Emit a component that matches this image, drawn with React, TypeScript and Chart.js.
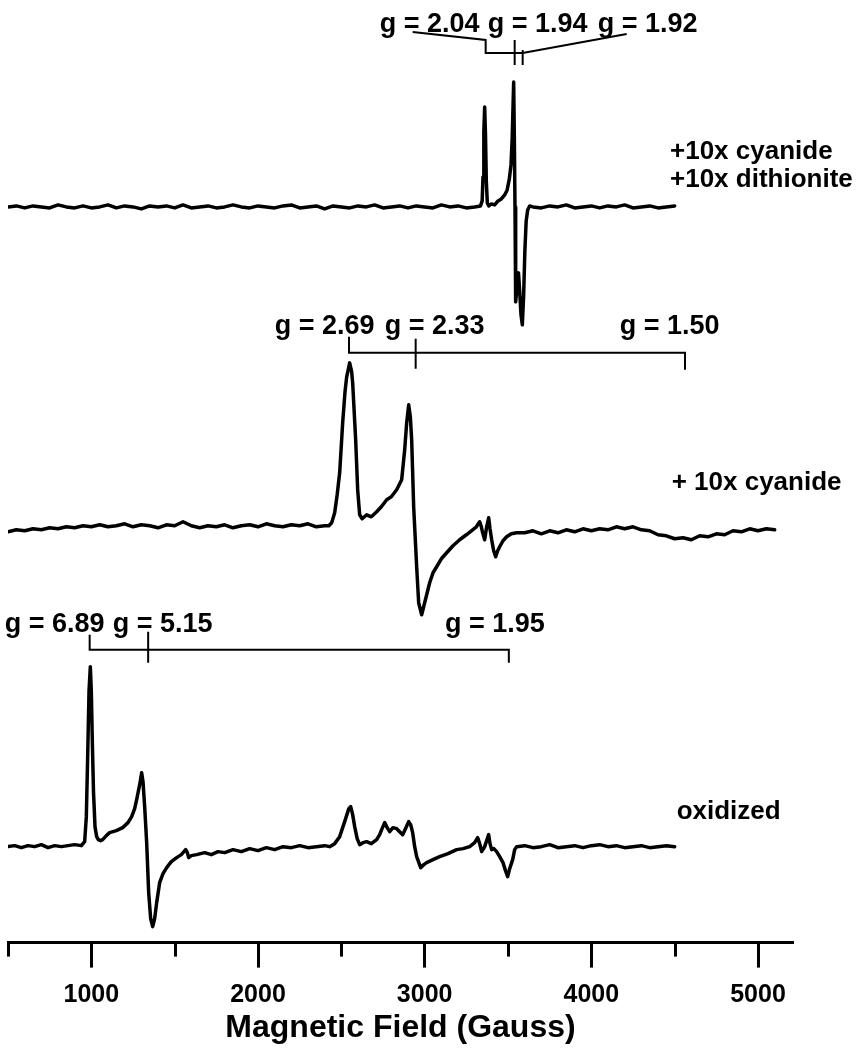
import React, { useEffect, useRef } from "react";
import { Chart, registerables } from "chart.js";

Chart.register(...registerables);

const FONT = '"Liberation Sans", Arial, Helvetica, sans-serif';

// ---- axis ----
const X_MIN = 500;
const X_MAX = 5210;
const Y_MIN = 0;
const Y_MAX = 943;
const TICK_VALUES = [500, 1000, 1500, 2000, 2500, 3000, 3500, 4000, 4500, 5000];
const LABELED_TICKS = [1000, 2000, 3000, 4000, 5000];
const AXIS_TITLE = "Magnetic Field (Gauss)";

// ---- trace vertical offsets (arbitrary intensity units) ----
const TOP_OFFSET = 736;
const MID_OFFSET = 416;
const BOT_OFFSET = 96;

// ---- +10x cyanide +10x dithionite ----
const topField = [
  500, 550, 600, 650, 700, 750, 800, 850, 900, 950,
  1000, 1050, 1100, 1150, 1200, 1250, 1300, 1350, 1400, 1450,
  1500, 1550, 1600, 1650, 1700, 1750, 1800, 1850, 1900, 1950,
  2000, 2050, 2100, 2150, 2200, 2250, 2300, 2350, 2400, 2450,
  2500, 2550, 2600, 2650, 2700, 2750, 2800, 2850, 2900, 2950,
  3000, 3050, 3100, 3150, 3200, 3250, 3300,
  3335, 3345, 3350, 3355, 3360, 3365, 3370, 3376, 3385, 3400,
  3420, 3440, 3460, 3480, 3495, 3508, 3518, 3525, 3534, 3538,
  3542, 3546, 3552, 3558, 3563, 3570, 3578, 3586, 3594, 3601,
  3609, 3618, 3630,
  3650, 3700, 3750, 3800, 3850, 3900, 3950, 4000, 4050, 4100,
  4150, 4200, 4250, 4300, 4350, 4400, 4450, 4500,
];
const topSignal = [
  0, 1, -1, 1, 0, -1, 2, 0, -1, 1,
  -1, 0, 2, -1, 1, 0, -2, 1, 0, 1,
  -1, 2, -1, 0, 1, -1, 0, 2, 0, -1,
  1, 0, -1, 1, 2, -1, 0, 1, -2, 1,
  0, -1, 1, 0, 2, -1, 0, 1, -1, 1,
  0, -1, 2, 0, 1, -1, 0,
  1, 6, 30, 75, 100, 72, 25, 4, 1, 3,
  2, 6, 8, 12, 17, 28, 42, 68, 125, 70,
  0, -95, -84, -70, -66, -84, -108, -118, -88, -45,
  -14, -3, 1,
  0, -1, 1, 0, 2, -1, 0, 1, -1, 1,
  0, 2, -1, 0, 1, -1, 0, 1,
];

// ---- + 10x cyanide ----
const midField = [
  500, 550, 600, 650, 700, 750, 800, 850, 900, 950,
  1000, 1050, 1100, 1150, 1200, 1250, 1300, 1350, 1400, 1450,
  1500, 1550, 1600, 1650, 1700, 1750, 1800, 1850, 1900, 1950,
  2000, 2050, 2100, 2150, 2200, 2250, 2300, 2350, 2400,
  2425, 2442, 2460, 2475, 2490, 2508, 2522, 2532, 2550, 2562,
  2568, 2586, 2598, 2610, 2625, 2652, 2680, 2712, 2740, 2772,
  2800, 2832, 2862, 2880, 2892, 2904, 2914, 2922, 2934, 2952,
  2964, 2982, 3000, 3030, 3050, 3072, 3100, 3132, 3170, 3210,
  3250, 3288, 3310, 3330, 3340, 3348, 3360, 3372, 3384, 3392,
  3402, 3414, 3426, 3438, 3450, 3470, 3492, 3520, 3552,
  3600, 3650, 3700, 3750, 3800, 3850, 3900, 3950, 4000, 4050,
  4100, 4150, 4200, 4250, 4300, 4350, 4400, 4450, 4500, 4550,
  4600, 4650, 4700, 4750, 4800, 4850, 4900, 4950, 5000, 5050, 5100,
];
const midSignal = [
  -5, -3, -4, -2, -3, -1, -2, 0, -1, 1,
  0, 2, 0, 1, 3, 0, 2, 1, -1, 2,
  1, 5, 1, -1, 1, 0, 2, -1, 1, 2,
  0, 3, 1, 0, 2, 1, 3, 0, 1,
  1, 4, 14, 32, 54, 104, 135, 150, 164, 155,
  144, 87, 37, 12, 8, 12, 10, 15, 20, 27,
  30, 37, 47, 77, 104, 122, 110, 87, 20, -40,
  -76, -88, -76, -56, -46, -40, -32, -26, -19, -13,
  -8, -3, 0, 5, 0, -6, -13, 0, 9, -2,
  -13, -24, -30, -24, -20, -14, -10, -7, -6,
  -6, -4, -7, -4, -6, -3, -5, -2, -4, -2,
  -3, 0, -2, 0, -3, -4, -8, -9, -12, -11,
  -13, -9, -10, -7, -8, -4, -5, -2, -4, -2, -3,
];

// ---- oxidized ----
const botField = [
  500, 540, 580, 620, 660, 700, 740, 780, 820, 860, 900, 940,
  960, 970, 978, 986, 994, 1000, 1006, 1013, 1022, 1032,
  1042, 1055, 1068, 1090, 1110, 1150, 1188, 1220, 1242, 1260,
  1272, 1290, 1302, 1310, 1320, 1332, 1344, 1356, 1368, 1380,
  1392, 1410, 1430, 1452, 1480, 1512, 1540, 1566, 1576, 1584,
  1600, 1632,
  1680, 1720, 1760, 1800, 1850, 1900, 1950, 2000, 2050, 2100,
  2150, 2200, 2250, 2300, 2350, 2400, 2430,
  2460, 2490, 2520, 2545, 2556, 2568, 2580, 2595, 2610, 2630,
  2652, 2680, 2712, 2730, 2742, 2760, 2775, 2790, 2810, 2832,
  2850, 2868, 2885, 2904, 2916, 2928, 2940, 2952, 2976, 2995,
  3012, 3050, 3090, 3140, 3192, 3230, 3270, 3300, 3318, 3330,
  3342, 3350, 3360, 3372, 3384, 3392, 3402, 3415, 3432, 3450,
  3470, 3485, 3498, 3510, 3528, 3540, 3552,
  3600, 3650, 3700, 3750, 3800, 3850, 3900, 3950, 4000, 4050,
  4100, 4150, 4200, 4250, 4300, 4350, 4400, 4450, 4500,
];
const botSignal = [
  0, 1, -1, 1, 0, 2, -1, 1, 0, 1, 2, 1,
  5, 30, 90, 155, 180, 155, 105, 55, 20, 10,
  7, 6, 7, 11, 14, 16, 19, 24, 30, 38,
  47, 62, 74, 65, 40, 4, -46, -72, -80, -72,
  -56, -36, -27, -21, -15, -11, -8, -3, -6, -11,
  -9, -8,
  -6, -8, -5, -6, -3, -5, -2, -4, -1, -3,
  0, -1, 1, -1, 0, 1, 0,
  3, 10, 25, 38, 40, 32, 20, 8, 2, 4,
  5, 3, 7, 12, 17, 24, 19, 15, 19, 18,
  15, 12, 18, 25, 22, 14, 0, -10, -21, -18,
  -16, -13, -10, -7, -3, -2, 0, 4, 9, 3,
  -5, -3, 0, 6, 12, 3, -3, -2, -5, -10,
  -16, -24, -30, -22, -13, -3, 0,
  1, -1, 0, 2, -1, 0, 1, -1, 1, 2,
  0, 1, -1, 0, 1, -1, 0, 1, 0,
];

// ---- g-value marker brackets (field, level) ----
const bracketTopMainF = [2928, 3366, 3366, 3588, 4212];
const bracketTopMainV = [911, 903, 890, 890, 909];
const bracketTopTick1F = [3540, 3540];
const bracketTopTick1V = [903, 878];
const bracketTopTick2F = [3588, 3588];
const bracketTopTick2V = [893, 878];
const bracketMidMainF = [2546, 2546, 4562, 4562];
const bracketMidMainV = [606, 590, 590, 573];
const bracketMidTickF = [2946, 2946];
const bracketMidTickV = [604, 574];
const bracketBotMainF = [990, 990, 3505, 3505];
const bracketBotMainV = [308, 293, 293, 280];
const bracketBotTickF = [1341, 1341];
const bracketBotTickV = [311, 280];

// ---- text annotations ----
const gLabelText = ["g = 2.04", "g = 1.94", "g = 1.92", "g = 2.69", "g = 2.33", "g = 1.50", "g = 6.89", "g = 5.15", "g = 1.95"];
const gLabelField = [2730, 3378, 4038, 2100, 2760, 4170, 480, 1128, 3122];
const gLabelLevel = [911, 911, 911, 609, 609, 609, 311, 311, 311];
const sampleText = ["+10x cyanide", "+10x dithionite", "+ 10x cyanide", "oxidized"];
const sampleField = [4472, 4472, 4482, 4512];
const sampleLevel = [784, 756, 453, 124];

function toPoints(f: number[], s: number[], offset: number) {
  return f.map((x, i) => ({ x, y: s[i] + offset }));
}

const annotationPlugin = {
  id: "eprAnnotations",
  afterDraw(chart: any) {
    const { ctx, chartArea } = chart;
    const xs = chart.scales.x;
    const ys = chart.scales.y;
    ctx.save();
    // minor ticks
    ctx.strokeStyle = "#000";
    ctx.lineWidth = 3;
    TICK_VALUES.filter((v) => !LABELED_TICKS.includes(v)).forEach((v) => {
      const px = Math.round(xs.getPixelForValue(v)) + 0.5;
      ctx.beginPath();
      ctx.moveTo(px, chartArea.bottom);
      ctx.lineTo(px, chartArea.bottom + 14);
      ctx.stroke();
    });
    // text
    ctx.fillStyle = "#000";
    ctx.textAlign = "left";
    ctx.textBaseline = "alphabetic";
    ctx.font = `bold 27px ${FONT}`;
    gLabelText.forEach((t, i) => {
      ctx.fillText(t, xs.getPixelForValue(gLabelField[i]), ys.getPixelForValue(gLabelLevel[i]));
    });
    ctx.font = `bold 26px ${FONT}`;
    sampleText.forEach((t, i) => {
      ctx.fillText(t, xs.getPixelForValue(sampleField[i]), ys.getPixelForValue(sampleLevel[i]));
    });
    ctx.restore();
  },
};

export default function App() {
  const ref = useRef<HTMLCanvasElement>(null);

  useEffect(() => {
    const canvas = ref.current;
    if (!canvas) return;

    const trace = (f: number[], s: number[], off: number) => ({
      data: toPoints(f, s, off),
      showLine: true,
      borderColor: "#000",
      borderWidth: 3.5,
      pointRadius: 0,
      tension: 0,
      fill: false,
      borderJoinStyle: "round" as const,
      borderCapStyle: "round" as const,
    });
    const bracket = (f: number[], v: number[]) => ({
      data: toPoints(f, v, 0),
      showLine: true,
      borderColor: "#000",
      borderWidth: 2,
      pointRadius: 0,
      tension: 0,
      fill: false,
    });

    const chart = new Chart(canvas, {
      type: "scatter",
      data: {
        datasets: [
          trace(topField, topSignal, TOP_OFFSET),
          trace(midField, midSignal, MID_OFFSET),
          trace(botField, botSignal, BOT_OFFSET),
          bracket(bracketTopMainF, bracketTopMainV),
          bracket(bracketTopTick1F, bracketTopTick1V),
          bracket(bracketTopTick2F, bracketTopTick2V),
          bracket(bracketMidMainF, bracketMidMainV),
          bracket(bracketMidTickF, bracketMidTickV),
          bracket(bracketBotMainF, bracketBotMainV),
          bracket(bracketBotTickF, bracketBotTickV),
        ] as any,
      },
      options: {
        animation: false,
        responsive: false,
        maintainAspectRatio: false,
        events: [],
        layout: { padding: { left: 8, right: 73, top: 0, bottom: 3 } },
        plugins: {
          legend: { display: false },
          tooltip: { enabled: false },
          title: { display: false },
        },
        scales: {
          x: {
            type: "linear",
            min: X_MIN,
            max: X_MAX,
            afterBuildTicks: (scale: any) => {
              scale.ticks = TICK_VALUES.map((v) => ({ value: v }));
            },
            afterFit: (scale: any) => {
              scale.paddingLeft = 0;
              scale.paddingRight = 0;
            },
            ticks: {
              autoSkip: false,
              maxRotation: 0,
              padding: 13,
              color: "#000",
              font: { family: FONT, size: 25, weight: "bold" },
              callback: (v: any) => (LABELED_TICKS.includes(Number(v)) ? String(v) : ""),
            },
            grid: {
              drawOnChartArea: false,
              drawTicks: true,
              tickLength: 25,
              tickWidth: 3,
              tickColor: (c: any) =>
                c.tick && LABELED_TICKS.includes(c.tick.value) ? "#000" : "rgba(0,0,0,0)",
            },
            border: { display: true, color: "#000", width: 3 },
            title: {
              display: true,
              text: AXIS_TITLE,
              color: "#000",
              font: { family: FONT, size: 32, weight: "bold" },
              padding: { top: -15, bottom: 0 },
            },
          },
          y: {
            type: "linear",
            display: false,
            min: Y_MIN,
            max: Y_MAX,
          },
        },
      } as any,
      plugins: [annotationPlugin],
    });

    return () => chart.destroy();
  }, []);

  return (
    <div style={{ position: "absolute", left: 0, top: 0, width: 866, height: 1050, background: "#fff" }}>
      <canvas ref={ref} width={866} height={1050} style={{ display: "block", width: 866, height: 1050 }} />
    </div>
  );
}
